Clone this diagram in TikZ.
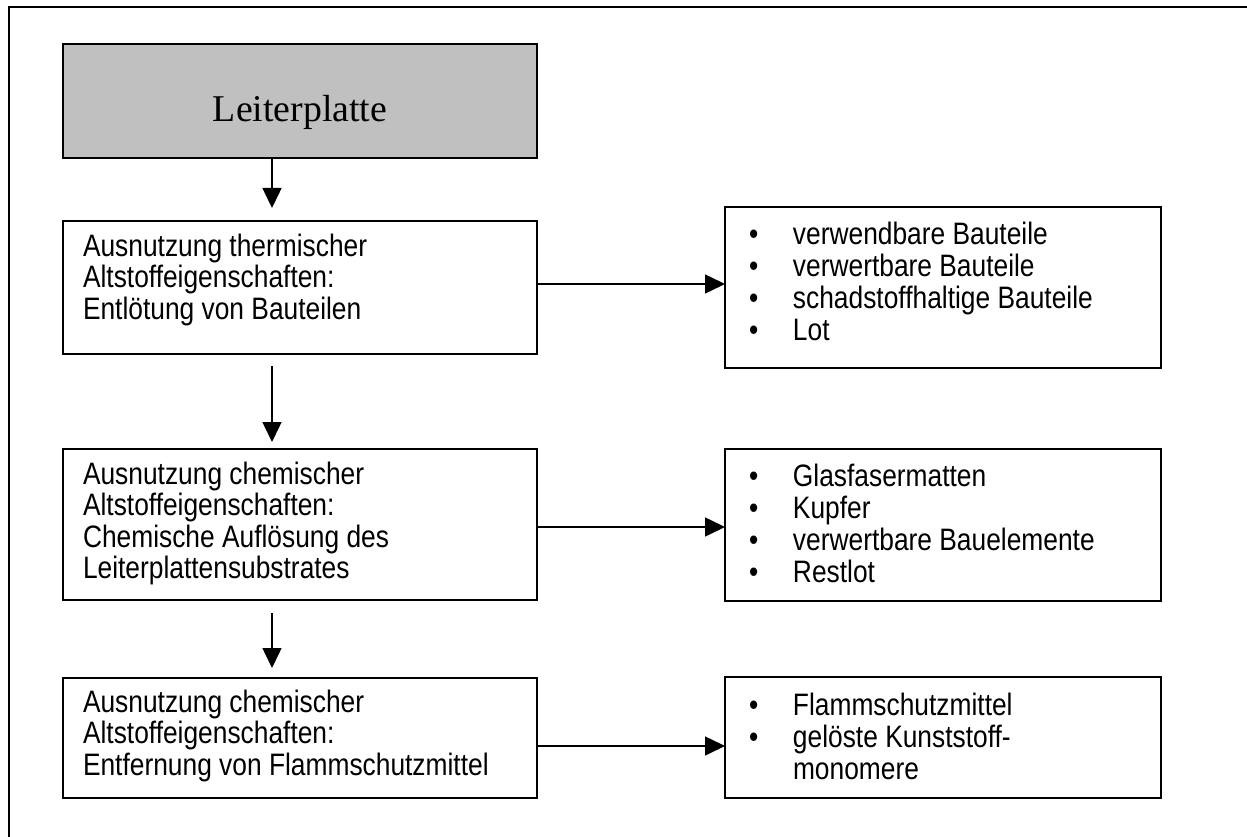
\documentclass[tikz,border=0pt]{standalone}
\usepackage{fontspec}
\setmainfont{Liberation Sans}
\newfontfamily\condfont[FakeStretch=0.85]{Liberation Sans}
\newfontfamily\timesfont{Liberation Serif}
\usetikzlibrary{arrows.meta,calc}
\definecolor{boxgray}{HTML}{C0C0C0}
\tikzset{
  box/.style={draw=black, line width=1.5pt, inner sep=0pt, outer sep=0pt, fill=white},
  arr/.style={line width=1.5pt, -{Triangle[length=20pt,width=19pt]}},
  txt/.style={inner sep=0pt, outer sep=0pt, anchor=base west, font=\condfont\fontsize{31}{30.6}\selectfont},
  rtxt/.style={inner sep=0pt, outer sep=0pt, anchor=base west, font=\condfont\fontsize{31}{32.3}\selectfont},
}
\newcommand{\bul}{\makebox[44pt][l]{•}}
\newcommand{\nobul}{\hspace*{44pt}}
\begin{document}
\begin{tikzpicture}[x=1pt,y=-1pt]
\useasboundingbox (0,0) rectangle (1247,837);
% outer frame (only top and left edges visible)
\draw[line width=2.5pt] (1247,7) -- (9,7) -- (9,837);

% left column boxes
\node[box, fill=boxgray, minimum width=474pt, minimum height=114pt] (lp) at (300,101) {};
\node[box, minimum width=474pt, minimum height=133pt] (b1) at (300,287.5) {};
\node[box, minimum width=474pt, minimum height=151pt] (b2) at (300,524.5) {};
\node[box, minimum width=474pt, minimum height=120pt] (b3) at (300,738) {};

% right column boxes
\node[box, minimum width=436pt, minimum height=161pt] (r1) at (943,287.5) {};
\node[box, minimum width=436pt, minimum height=152pt] (r2) at (943,525) {};
\node[box, minimum width=436pt, minimum height=121pt] (r3) at (943,737.5) {};

% texts
\node[inner sep=0pt, anchor=base, font=\timesfont\fontsize{37.8}{40}\selectfont] (lpt) at (300,122) {Leiterplatte};

\node[txt] (b1t) at ($(b1.north west)+(20,35)$) {\begin{tabular}[t]{@{}l@{}}Ausnutzung thermischer\\Altstoffeigenschaften:\\Entlötung von Bauteilen\end{tabular}};
\node[txt] (b2t) at ($(b2.north west)+(20,35)$) {\begin{tabular}[t]{@{}l@{}}Ausnutzung chemischer\\Altstoffeigenschaften:\\Chemische Auflösung des\\Leiterplattensubstrates\end{tabular}};
\node[txt] (b3t) at ($(b3.north west)+(20,34)$) {\begin{tabular}[t]{@{}l@{}}Ausnutzung chemischer\\Altstoffeigenschaften:\\Entfernung von Flammschutzmittel\end{tabular}};

\node[rtxt] (r1t) at ($(r1.north west)+(24,37)$) {\begin{tabular}[t]{@{}l@{}}\bul verwendbare Bauteile\\\bul verwertbare Bauteile\\\bul schadstoffhaltige Bauteile\\\bul Lot\end{tabular}};
\node[rtxt] (r2t) at ($(r2.north west)+(24,37)$) {\begin{tabular}[t]{@{}l@{}}\bul Glasfasermatten\\\bul Kupfer\\\bul verwertbare Bauelemente\\\bul Restlot\end{tabular}};
\node[rtxt] (r3t) at ($(r3.north west)+(24,38)$) {\begin{tabular}[t]{@{}l@{}}\bul Flammschutzmittel\\\bul gelöste Kunststoff-\\\nobul monomere\end{tabular}};

% vertical arrows
\coordinate (a1s) at ($(lp.south west)+(209,0)$);
\coordinate (a1e) at ($(b1.north west)+(209,-13)$);
\draw[arr] (a1s) -- (a1e);
\coordinate (a2s) at ($(b1.south west)+(209,12)$);
\coordinate (a2e) at ($(b2.north west)+(209,-7)$);
\draw[arr] (a2s) -- (a2e);
\coordinate (a3s) at ($(b2.south west)+(209,13)$);
\coordinate (a3e) at ($(b3.north west)+(209,-10)$);
\draw[arr] (a3s) -- (a3e);

% horizontal arrows
\draw[arr] ($(b1.east)+(0,-3.5)$) -- ($(r1.west)+(0,-3.5)$);
\draw[arr] ($(b2.east)+(0,2.5)$) -- ($(r2.west)+(0,2)$);
\draw[arr] ($(b3.east)+(0,8)$) -- ($(r3.west)+(0,8.5)$);
\end{tikzpicture}
\end{document}
